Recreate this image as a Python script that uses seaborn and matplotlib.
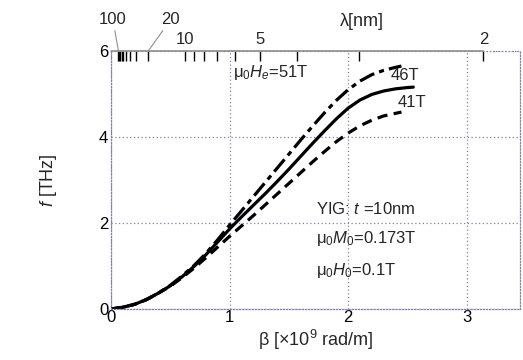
import numpy as np
import pandas as pd
import matplotlib
matplotlib.use("Agg")
import matplotlib.pyplot as plt
import seaborn as sns

# ---- data ----
beta = [0, 0.1, 0.2, 0.3, 0.4, 0.5, 0.6, 0.7, 0.8, 0.9, 1.0, 1.1, 1.2, 1.3,
        1.4, 1.5, 1.6, 1.7, 1.8, 1.9, 2.0, 2.1, 2.2, 2.3, 2.4, 2.5, 2.55]
f_46 = [0, 0.04, 0.11, 0.22, 0.37, 0.54, 0.75, 0.99, 1.26, 1.56, 1.86, 2.14,
        2.41, 2.68, 2.96, 3.25, 3.55, 3.85, 4.14, 4.42, 4.67, 4.86, 4.99, 5.07,
        5.12, 5.15, 5.16]
beta_51 = [0, 0.1, 0.2, 0.3, 0.4, 0.5, 0.6, 0.7, 0.8, 0.9, 1.0, 1.1, 1.2, 1.3,
           1.4, 1.5, 1.6, 1.7, 1.8, 1.9, 2.0, 2.1, 2.2, 2.3, 2.4, 2.45]
f_51 = [0, 0.04, 0.11, 0.22, 0.37, 0.55, 0.77, 1.01, 1.29, 1.61, 1.95, 2.28,
        2.61, 2.94, 3.27, 3.6, 3.93, 4.25, 4.56, 4.85, 5.1, 5.3, 5.45, 5.55,
        5.62, 5.65]
beta_41 = [0, 0.1, 0.2, 0.3, 0.4, 0.5, 0.6, 0.7, 0.8, 0.9, 1.0, 1.1, 1.2, 1.3,
           1.4, 1.5, 1.6, 1.7, 1.8, 1.9, 2.0, 2.1, 2.2, 2.3, 2.4, 2.45]
f_41 = [0, 0.04, 0.11, 0.22, 0.37, 0.53, 0.73, 0.95, 1.19, 1.44, 1.69, 1.93,
        2.17, 2.42, 2.67, 2.92, 3.17, 3.42, 3.66, 3.89, 4.09, 4.26, 4.39, 4.49,
        4.55, 4.58]

series_names = ["51T", "46T", "41T"]
x_ticks = [0, 1, 2, 3]
y_ticks = [0, 2, 4, 6]
lam_major = [10, 5, 2]
lam_leader = [100, 20]
lam_minor = [90, 80, 70, 60, 50, 40, 30, 9, 8, 7, 6, 4, 3]

df = pd.concat([
    pd.DataFrame({"beta": beta_51, "f": f_51, "He": "51T"}),
    pd.DataFrame({"beta": beta, "f": f_46, "He": "46T"}),
    pd.DataFrame({"beta": beta_41, "f": f_41, "He": "41T"}),
])

# ---- style ----
sns.set_theme(style="white")
plt.rcParams["font.family"] = ["Liberation Sans", "DejaVu Sans"]
plt.rcParams["mathtext.fontset"] = "custom"
plt.rcParams["mathtext.rm"] = "Liberation Sans"
plt.rcParams["mathtext.it"] = "Liberation Sans:italic"
plt.rcParams["mathtext.bf"] = "Liberation Sans:bold"

frame_c = "#8080b0"
fig = plt.figure(figsize=(5.23, 3.6), dpi=100)
ax = fig.add_axes([111 / 523, 1 - 309 / 360, (520 - 111) / 523, (309 - 51) / 360])

sns.lineplot(data=df, x="beta", y="f", style="He", style_order=series_names,
             dashes={"51T": (5, 1.6, 1.6, 1.6), "46T": "", "41T": (3.2, 2.0)},
             color="black", lw=2.3, legend=False, ax=ax, sort=False)

ax.set_xlim(0, 3.45)
ax.set_ylim(0, 6)
ax.set_xticks(x_ticks)
ax.set_xticks([0.5, 1.5, 2.5], minor=True)
ax.set_yticks(y_ticks)
ax.set_yticks([1, 3, 5], minor=True)
ax.tick_params(which="both", direction="in", color=frame_c, labelsize=12,
               labelcolor="black", pad=2)
ax.tick_params(which="major", length=3)
ax.tick_params(which="minor", length=2.5)
ax.tick_params(axis="x", pad=1)
ax.grid(True, which="major", linestyle=(0, (1, 2)), color=frame_c, lw=0.9)
for s in ax.spines.values():
    s.set_visible(True)
    s.set_color(frame_c)
    s.set_linestyle((0, (1, 1.5)))
    s.set_linewidth(0.9)
ax.spines["top"].set_visible(False)
ax.axhline(6, xmin=0, xmax=np.pi / 3.45, color="#8c8c8c", lw=1.2, clip_on=False, zorder=5)
ax.axhline(6, xmin=np.pi / 3.45, xmax=1, color=frame_c, lw=0.9,
           linestyle=(0, (1, 1.5)), clip_on=False)

ax.set_xlabel(r"β [×10$^{9}$ rad/m]", fontsize=13, labelpad=2)
ax.set_ylabel(r"$\it{f}$ [THz]", fontsize=13, labelpad=29)

# ---- wavelength axis on top ----
def b2l(b):
    b = np.asarray(b, dtype=float)
    with np.errstate(divide="ignore"):
        return 2 * np.pi / np.where(b <= 0, 1e-6, b)

sec = ax.secondary_xaxis("top", functions=(b2l, b2l))
sec.set_xticks(lam_major + lam_leader)
sec.set_xticklabels([str(v) for v in lam_major] + ["", ""])
sec.set_xticks(lam_minor, minor=True)
sec.tick_params(which="both", direction="in", length=7.5, width=1.0, color="black",
                labelsize=12, pad=3)
sec.spines["top"].set_visible(False)
ax.text((362 - 111) / 409, (309 - 21) / 258, "λ[nm]", transform=ax.transAxes,
        fontsize=13, ha="center", va="center")

for lam, dx in zip(lam_leader, [-4, 16]):
    xb = 2 * np.pi / lam
    ax.annotate(str(lam), xy=(xb, 6), xycoords="data",
                xytext=(dx, 17), textcoords="offset points",
                ha="center", va="bottom", fontsize=12,
                arrowprops=dict(arrowstyle="-", color="#909090", lw=0.8,
                                shrinkA=0, shrinkB=0),
                annotation_clip=False)

# ---- annotations ----
ax.text(1.03, 5.49, r"μ$_{0}$$\it{H}_{e}$=51T", fontsize=12, va="center", ha="left")
ax.text(2.36, 5.44, "46T", fontsize=12, va="center", ha="left")
ax.text(2.42, 4.81, "41T", fontsize=12, va="center", ha="left")
ax.text(1.73, 2.33, r"YIG: $\it{t}$ =10nm", fontsize=12, va="center", ha="left")
ax.text(1.73, 1.63, r"μ$_{0}$$\it{M}_{0}$=0.173T", fontsize=12, va="center", ha="left")
ax.text(1.73, 0.90, r"μ$_{0}$$\it{H}_{0}$=0.1T", fontsize=12, va="center", ha="left")

fig.savefig("out.png", dpi=100)
